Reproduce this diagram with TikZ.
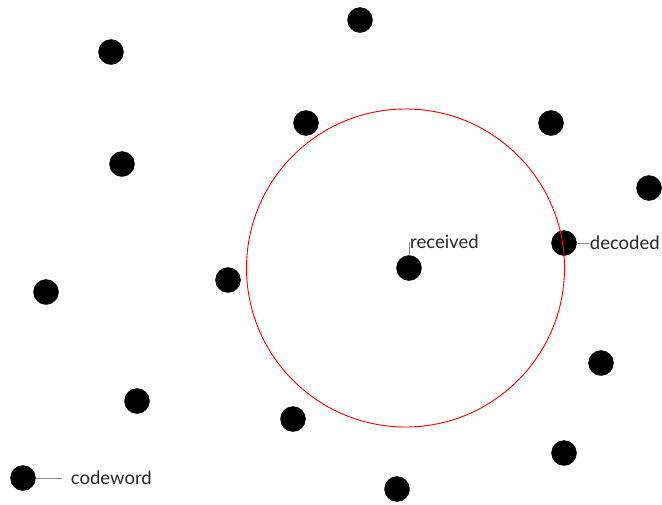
\documentclass[tikz,border=0pt]{standalone}
\usepackage{fontspec}
\setmainfont{Lato}
\usetikzlibrary{positioning}

\begin{document}
\begin{tikzpicture}[
  x=1pt, y=-1pt,
  font=\fontsize{18.5}{22}\selectfont,
  word/.style={draw,circle,fill=black,minimum size=25pt,inner sep=0pt},
  tag/.style ={inner sep=1pt,text=black!85},
  lead/.style={draw=black!45,line width=0.8pt},
]
\useasboundingbox (0,0) rectangle (662,504);

%% ============================================================
%% Codewords (pixel positions of the reference)
%% ============================================================
\node[word] (c1)  at (360, 20) {};
\node[word] (c2)  at (111, 52) {};
\node[word] (c3)  at (306,123) {};
\node[word] (c4)  at (551,123) {};
\node[word] (c5)  at (122,164) {};
\node[word] (c6)  at (649,188) {};
\node[word] (dec) at (564,243) {};
\node[word] (c8)  at (228,280) {};
\node[word] (c9)  at ( 46,292) {};
\node[word] (rec) at (409,268) {};
\node[word] (c11) at (601,363) {};
\node[word] (c12) at (137,401) {};
\node[word] (c13) at (293,419) {};
\node[word] (c14) at (564,453) {};
\node[word] (cw)  at ( 23,478) {};
\node[word] (c16) at (397,489) {};

% --- decoding radius ---
\coordinate (ctr) at (405.5,268);
\draw[red,line width=0.9pt] (ctr) circle[radius=159];

% --- labels ---
\node[tag,anchor=base west] (lrec) at (409,248) {received};
\draw[lead] (rec.north) -- ++(0,-13);

\node[tag,right=12pt of dec] (ldec) {decoded};
\draw[lead] (dec.east) -- (ldec.west);

\node[tag,right=34pt of cw] (lcw) {codeword};
\draw[lead] (cw.east) -- ++(26,0);

\end{tikzpicture}
\end{document}
